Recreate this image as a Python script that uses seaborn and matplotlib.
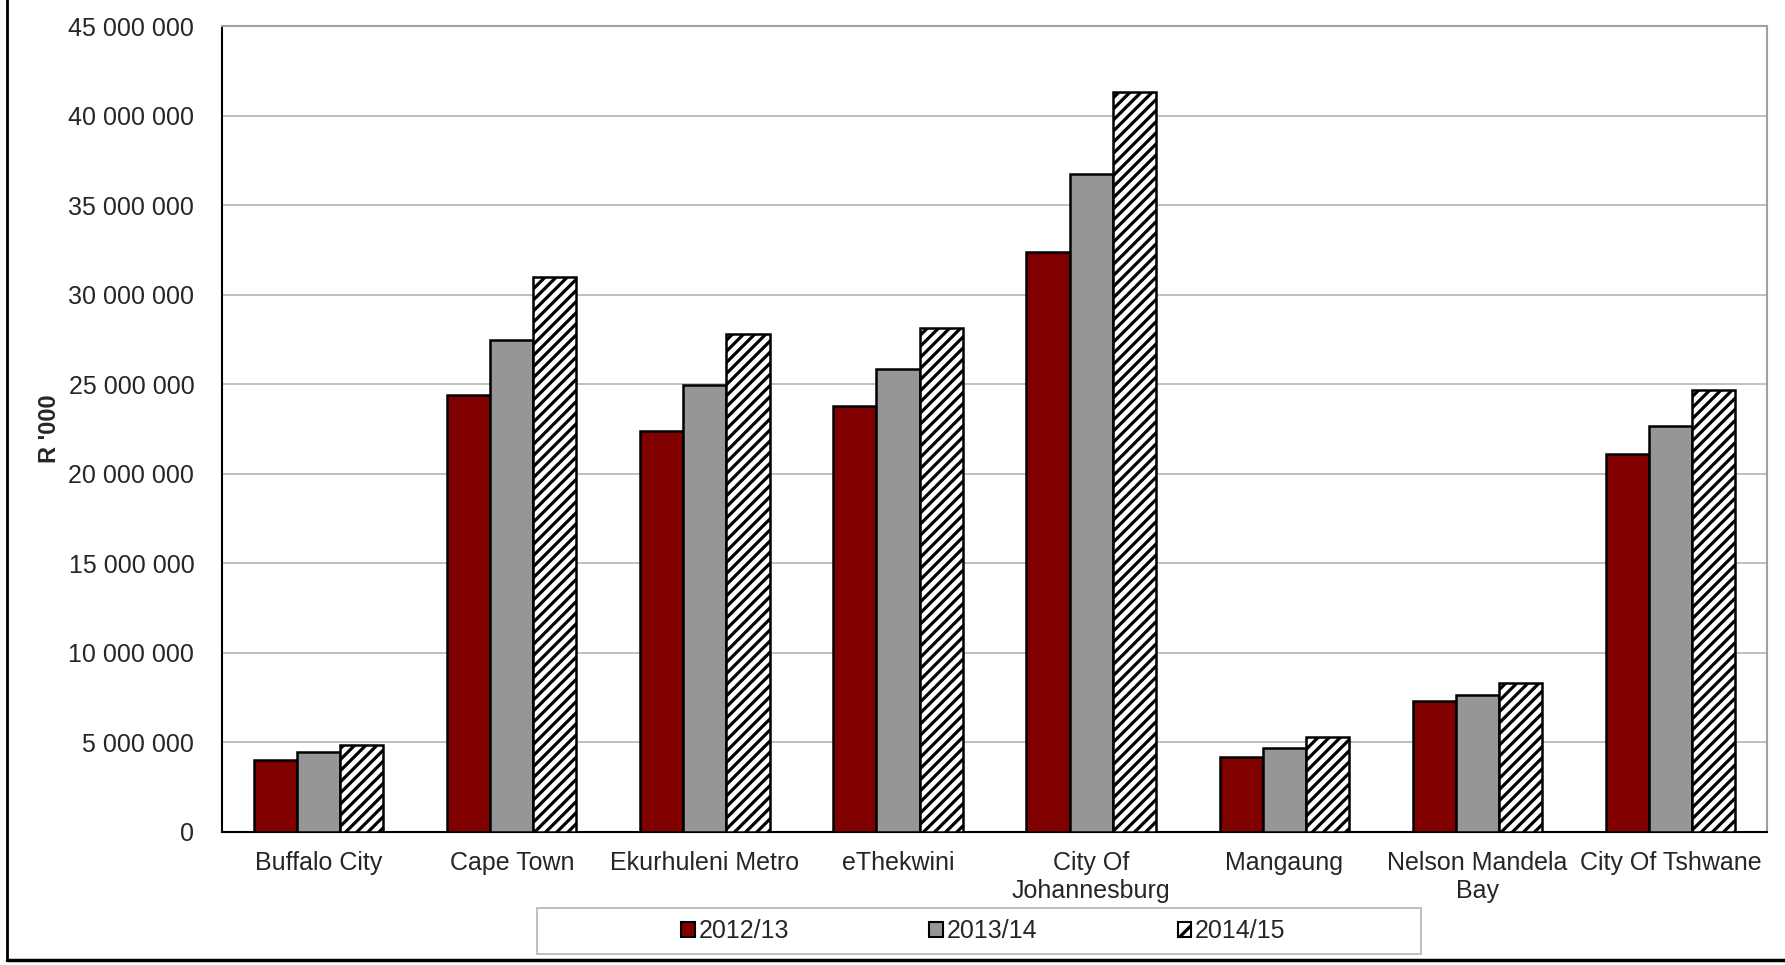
import matplotlib
matplotlib.use("Agg")
import matplotlib.pyplot as plt
import seaborn as sns
import pandas as pd
from matplotlib.patches import Patch, Rectangle
from matplotlib.lines import Line2D
from matplotlib.ticker import FuncFormatter

# data (R '000)
municipalities = ["Buffalo City", "Cape Town", "Ekurhuleni Metro", "eThekwini",
                  "City Of\nJohannesburg", "Mangaung", "Nelson Mandela\nBay",
                  "City Of Tshwane"]
years = ["2012/13", "2013/14", "2014/15"]
values_2012 = [4.00e6, 24.40e6, 22.38e6, 23.80e6, 32.38e6, 4.20e6, 7.32e6, 21.10e6]
values_2013 = [4.45e6, 27.45e6, 24.98e6, 25.87e6, 36.74e6, 4.70e6, 7.63e6, 22.69e6]
values_2014 = [4.83e6, 30.98e6, 27.78e6, 28.14e6, 41.32e6, 5.28e6, 8.31e6, 24.68e6]

df = pd.DataFrame({
    "Municipality": municipalities * 3,
    "Year": [years[0]] * 8 + [years[1]] * 8 + [years[2]] * 8,
    "Value": values_2012 + values_2013 + values_2014,
})

colors = ["#800000", "#969696", "#ffffff"]

sns.set_style("white")
plt.rcParams["font.family"] = ["Liberation Sans", "DejaVu Sans"]
plt.rcParams["hatch.linewidth"] = 2.3

fig = plt.figure(figsize=(17.85, 9.65), dpi=100)
ax = fig.add_axes([0.1244, 0.138, 0.8656, 0.835])

sns.barplot(data=df, x="Municipality", y="Value", hue="Year", palette=colors,
            saturation=1, width=0.67, edgecolor="black", linewidth=1.8, gap=0,
            ax=ax, legend=False, zorder=3)

# hatched third series
for bar in ax.containers[2]:
    bar.set_facecolor("white")
    bar.set_hatch("///")
    bar.set_edgecolor("black")

ax.set_ylim(0, 45e6)
ax.set_yticks(range(0, 45000001, 5000000))
ax.yaxis.set_major_formatter(FuncFormatter(lambda v, p: f"{int(v):,}".replace(",", " ")))
ax.grid(axis="y", color="#b4b4b4", linewidth=1.2, zorder=0)
ax.set_axisbelow(True)
ax.set_xlim(-0.5, 7.5)

ax.set_xlabel("")
ax.set_ylabel("R '000", fontsize=17, fontweight="bold")
ax.yaxis.set_label_coords(-0.1043, 0.5)
ax.tick_params(axis="y", length=0, pad=20, labelsize=18)
ax.tick_params(axis="x", length=0, pad=14, labelsize=18)

for side in ["left", "bottom"]:
    ax.spines[side].set_color("black")
    ax.spines[side].set_linewidth(1.5)
for side in ["right", "top"]:
    ax.spines[side].set_color("#a0a0a0")
    ax.spines[side].set_linewidth(1.5)

# legend with a wide grey frame
handles = [Patch(facecolor=colors[0], edgecolor="black", linewidth=1.5),
           Patch(facecolor=colors[1], edgecolor="black", linewidth=1.5),
           Patch(facecolor="white", edgecolor="black", hatch="//", linewidth=1.5)]
fig.legend(handles, years, loc="center", bbox_to_anchor=(0.551, 0.035), ncol=3,
           frameon=False, fontsize=18, handlelength=0.55, handleheight=0.55,
           handletextpad=0.15, columnspacing=5.6)
fig.patches.append(Rectangle((537 / 1785, 1 - 954 / 965), 884 / 1785, 46 / 965,
                             transform=fig.transFigure, fill=False,
                             edgecolor="#b4b4b4", linewidth=1.2))

# outer frame lines (left and bottom)
fig.lines.append(Line2D([7 / 1785, 7 / 1785], [1 - 960 / 965, 1.0],
                        transform=fig.transFigure, color="black", linewidth=2))
fig.lines.append(Line2D([7 / 1785, 1.0], [1 - 960 / 965, 1 - 960 / 965],
                        transform=fig.transFigure, color="black", linewidth=2.5))

fig.savefig("out.png", dpi=100, facecolor="white")
